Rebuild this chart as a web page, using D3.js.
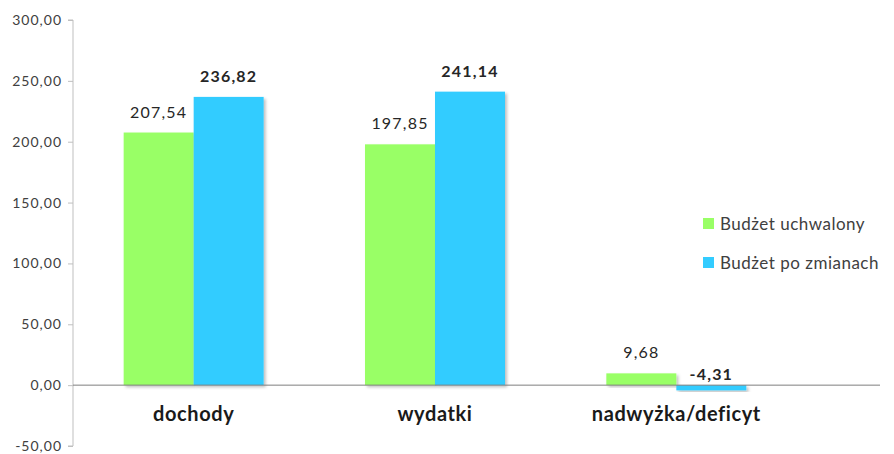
<!DOCTYPE html>
<html>
<head>
<meta charset="utf-8">
<script src="https://cdn.jsdelivr.net/npm/d3@7"></script>
<style>
  body { margin: 0; background: #fff; }
  text { font-family: Lato, "Open Sans", sans-serif; }
</style>
</head>
<body>
<div id="chart"></div>
<script>
// Data
const categories = ["dochody", "wydatki", "nadwyżka/deficyt"];
const seriesNames = ["Budżet uchwalony", "Budżet po zmianach"];
const uchwalony = [207.54, 197.85, 9.68];
const poZmianach = [236.82, 241.14, -4.31];
const yTicks = [-50, 0, 50, 100, 150, 200, 250, 300];

const colors = ["#99ff66", "#33ccff"];
const width = 894, height = 454;

const svg = d3.select("#chart").append("svg")
  .attr("width", width)
  .attr("height", height);

const fmt = v => d3.format(".2f")(v).replace(".", ",").replace("\u2212", "-");

// Scales
const x = d3.scaleBand().domain(categories).range([73, 797]).paddingInner(0).paddingOuter(0);
const y = d3.scaleLinear().domain([-50, 300]).range([446, 20]);
const barW = 70;

// Y axis
const yAxis = d3.axisLeft(y).tickValues(yTicks).tickFormat(fmt).tickSize(5).tickPadding(6);
const gy = svg.append("g").attr("transform", "translate(73,0)").call(yAxis);
gy.select(".domain").attr("stroke", "#bfbfbf").attr("d", `M-5,${y(300)}H0V${y(-50)}H-5`);
gy.selectAll(".tick line").attr("stroke", "#bfbfbf");
gy.selectAll(".tick text").attr("fill", "#404040")
  .style("font-size", "14px").style("letter-spacing", "1px");

// Shadow filter
const defs = svg.append("defs");
const f = defs.append("filter").attr("id", "sh").attr("x", "-10%").attr("y", "-10%").attr("width", "130%").attr("height", "130%");
f.append("feDropShadow").attr("dx", 2).attr("dy", 2).attr("stdDeviation", 1.5).attr("flood-color", "#000").attr("flood-opacity", 0.25);

const series = [uchwalony, poZmianach];
series.forEach((vals, si) => {
  const g = svg.append("g");
  g.selectAll("rect").data(vals).enter().append("rect")
    .attr("x", (d, i) => x(categories[i]) + x.bandwidth() / 2 - barW + si * barW)
    .attr("width", barW)
    .attr("y", d => y(Math.max(0, d)))
    .attr("height", d => Math.abs(y(d) - y(0)))
    .attr("fill", colors[si])
    .attr("filter", "url(#sh)");
  g.selectAll("text").data(vals).enter().append("text")
    .attr("x", (d, i) => x(categories[i]) + x.bandwidth() / 2 - barW / 2 + si * barW)
    .attr("y", d => y(Math.max(0, d)) - (d < 0 ? 5 : 15))
    .attr("text-anchor", "middle")
    .attr("fill", "#262626")
    .style("font-size", "16px")
    .style("letter-spacing", "1.2px")
    .style("font-weight", si === 1 ? "bold" : "normal")
    .text(d => fmt(d));
});

// Zero line
svg.append("line")
  .attr("x1", 73).attr("x2", 880)
  .attr("y1", y(0)).attr("y2", y(0))
  .attr("stroke", "#7f7f7f").attr("stroke-width", 1);

// Category labels
svg.append("g").selectAll("text").data(categories).enter().append("text")
  .attr("x", d => x(d) + x.bandwidth() / 2)
  .attr("y", 421)
  .attr("text-anchor", "middle")
  .attr("fill", "#1a1a1a")
  .style("font-size", "20px")
  .style("letter-spacing", "0.6px")
  .style("font-weight", "bold")
  .text(d => d);

// Legend
const legend = svg.append("g").attr("transform", "translate(703,218)");
seriesNames.forEach((name, i) => {
  legend.append("rect").attr("x", 0).attr("y", i * 39).attr("width", 11).attr("height", 11).attr("fill", colors[i]);
  legend.append("text").attr("x", 17).attr("y", i * 39 + 12)
    .attr("fill", "#404040").style("font-size", "17px").style("letter-spacing", "0.5px").text(name);
});
</script>
</body>
</html>
